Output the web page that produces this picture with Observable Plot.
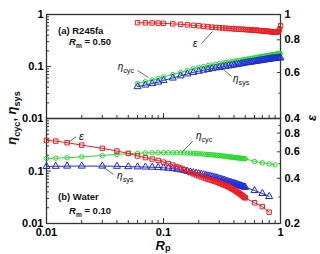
<!DOCTYPE html>
<html>
<head>
<meta charset="utf-8">
<script src="https://cdn.jsdelivr.net/npm/d3@7"></script>
<script src="https://cdn.jsdelivr.net/npm/@observablehq/plot@0.6"></script>
<style>
  body { margin: 0; background: #fff; }
  #chart { position: relative; width: 320px; height: 254px; overflow: hidden; background: #fff; }
  #chart svg { position: absolute; left: 0; top: 0; background: transparent !important; }
</style>
</head>
<body>
<div id="chart"></div>
<script>
// ---------- (a) R245fa, Rm = 0.50 ----------
const rpA = [0.06, 0.07, 0.08, 0.09, 0.10,
  0.12, 0.14, 0.16, 0.18, 0.20, 0.22, 0.24, 0.26, 0.28, 0.30,
  0.32, 0.34, 0.36, 0.38, 0.40, 0.42, 0.44, 0.46, 0.48, 0.50,
  0.52, 0.54, 0.56, 0.58, 0.60, 0.62, 0.64, 0.66, 0.68, 0.70,
  0.72, 0.74, 0.76, 0.78, 0.80, 0.82, 0.84, 0.86, 0.88, 0.90,
  0.92, 0.94, 0.96, 0.98, 1.00];
const epsA = [0.930, 0.929, 0.928, 0.927, 0.925,
  0.921, 0.917, 0.913, 0.909, 0.905, 0.901, 0.897, 0.894, 0.892, 0.890,
  0.888, 0.886, 0.884, 0.883, 0.881, 0.880, 0.879, 0.878, 0.877, 0.876,
  0.875, 0.874, 0.873, 0.872, 0.871, 0.870, 0.869, 0.868, 0.867, 0.866,
  0.865, 0.864, 0.863, 0.862, 0.861, 0.860, 0.859, 0.858, 0.857, 0.856,
  0.856, 0.857, 0.862, 0.875, 0.905];
const cycA = [0.047, 0.051, 0.055, 0.059, 0.063,
  0.070, 0.077, 0.084, 0.091, 0.096, 0.100, 0.104, 0.107, 0.110, 0.113,
  0.116, 0.119, 0.121, 0.124, 0.126, 0.128, 0.131, 0.133, 0.135, 0.137,
  0.139, 0.141, 0.143, 0.145, 0.147, 0.149, 0.151, 0.153, 0.155, 0.157,
  0.158, 0.160, 0.161, 0.163, 0.164, 0.166, 0.167, 0.169, 0.170, 0.172,
  0.173, 0.175, 0.176, 0.177, 0.178];
const sysA = [0.041, 0.044, 0.047, 0.050, 0.054,
  0.060, 0.066, 0.072, 0.077, 0.081, 0.085, 0.088, 0.091, 0.094, 0.096,
  0.099, 0.101, 0.103, 0.105, 0.107, 0.109, 0.111, 0.113, 0.115, 0.117,
  0.119, 0.120, 0.122, 0.123, 0.125, 0.126, 0.128, 0.129, 0.131, 0.132,
  0.133, 0.135, 0.136, 0.137, 0.139, 0.140, 0.141, 0.142, 0.143, 0.144,
  0.145, 0.146, 0.146, 0.147, 0.147];

// ---------- (b) Water, Rm = 0.10 ----------
const rpB = [0.01, 0.012, 0.015, 0.02, 0.03, 0.04, 0.05, 0.06, 0.07, 0.08, 0.09,
  0.10, 0.11, 0.12, 0.13, 0.14, 0.15, 0.16, 0.17, 0.18, 0.19, 0.20,
  0.21, 0.22, 0.23, 0.24, 0.25, 0.26, 0.27, 0.28, 0.29, 0.30,
  0.31, 0.32, 0.33, 0.34, 0.35, 0.36, 0.37, 0.38, 0.39, 0.40,
  0.41, 0.42, 0.43, 0.44, 0.45, 0.46, 0.47, 0.48, 0.49, 0.50,
  0.6, 0.7, 0.8, 0.9];
const epsB = [0.715, 0.707, 0.690, 0.665, 0.633, 0.607, 0.586, 0.563, 0.549, 0.537, 0.526,
  0.512, 0.501, 0.490, 0.479, 0.468, 0.457, 0.446, 0.436, 0.428, 0.421, 0.415,
  0.409, 0.404, 0.399, 0.395, 0.391, 0.387, 0.383, 0.380, 0.376, 0.372,
  0.368, 0.364, 0.361, 0.358, 0.355, 0.351, 0.347, 0.343, 0.339, 0.335,
  0.331, 0.327, 0.323, 0.319, 0.315, 0.311, 0.307, 0.303, 0.299, 0.296,
  0.275, 0.259, 0.238, null];
const cycB = [0.173, 0.176, 0.179, 0.186, 0.197, 0.207, 0.214, 0.218, 0.221, 0.222, 0.223,
  0.223, 0.223, 0.223, 0.223, 0.222, 0.221, 0.219, 0.218, 0.216, 0.215, 0.213,
  0.212, 0.210, 0.208, 0.206, 0.205, 0.203, 0.202, 0.200, 0.198, 0.196,
  0.195, 0.193, 0.192, 0.190, 0.189, 0.187, 0.186, 0.184, 0.183, 0.181,
  0.180, 0.179, 0.178, 0.177, 0.176, 0.175, 0.174, 0.173, 0.172, 0.171,
  0.152, 0.143, 0.137, 0.131];
const sysB = [0.122, 0.123, 0.124, 0.124, 0.124, 0.123, 0.121, 0.120, 0.119, 0.118, 0.117,
  0.115, 0.113, 0.111, 0.108, 0.105, 0.102, 0.099, 0.096, 0.093, 0.091, 0.089,
  0.087, 0.085, 0.083, 0.081, 0.080, 0.078, 0.076, 0.075, 0.073, 0.071,
  0.070, 0.068, 0.067, 0.065, 0.064, 0.062, 0.061, 0.060, 0.059, 0.058,
  0.057, 0.056, 0.055, 0.054, 0.053, 0.052, 0.051, 0.050, 0.0495, 0.049,
  0.0425, 0.0373, 0.0327, null];

// ---------- ticks ----------
const xLabelTicks = [0.01, 0.1, 1];
const logMinor = [0.02, 0.03, 0.04, 0.05, 0.06, 0.07, 0.08, 0.09, 0.2, 0.3, 0.4, 0.5, 0.6, 0.7, 0.8, 0.9];
const etaMajor = [0.01, 0.1, 1];
const etaLabelsA = [0.01, 0.1, 1];
const etaLabelsB = [0.01, 0.1];
const epsLabelsA = [0.4, 0.6, 0.8, 1];
const epsMinorA = [0.5, 0.7, 0.9];
const epsLabelsB = [0.2, 0.4, 0.6, 0.8];
const epsMinorB = [0.3, 0.5, 0.7, 0.9];

// ---------- callouts (label anchor and leader line, in data units) ----------
const calloutsA = [
  {name: "η", sub: "cyc", axis: "eta", tx: 0.041, ty: 0.084, x1: 0.060, y1: 0.084, x2: 0.0745, y2: 0.061},
  {name: "η", sub: "sys", axis: "eta", tx: 0.397, ty: 0.049, x1: 0.319, y1: 0.092, x2: 0.381, y2: 0.064},
  {name: "ε", sub: "", axis: "eps", tx: 0.180, ty: 0.747, x1: 0.211, y1: 0.774, x2: 0.262, y2: 0.861}
];
const calloutsB = [
  {name: "ε", sub: "", axis: "eps", tx: 0.0191, ty: 0.715, x1: 0.0154, y1: 0.693, x2: 0.0180, y2: 0.760},
  {name: "η", sub: "sys", axis: "eta", tx: 0.0405, ty: 0.069, x1: 0.0301, y1: 0.122, x2: 0.0374, y2: 0.086},
  {name: "η", sub: "cyc", axis: "eta", tx: 0.191, ty: 0.398, x1: 0.143, y1: 0.225, x2: 0.177, y2: 0.365}
];

const RED = "#ee1b1f", GREEN = "#27dc27", BLUE = "#1d2bd8";
const FONT = '"Liberation Sans", Arial, Helvetica, sans-serif';
const W = 320, H = 254;
const panels = [
  {top: 14, bottom: 118, title: "(a) R245fa", rm: "0.50", titleY: 34, rmY: 45},
  {top: 118, bottom: 223, title: "(b) Water", rm: "0.10", titleY: 200, rmY: 214}
];

const rows = (xs, vs) => xs.map((rp, i) => ({rp, v: vs[i]})).filter(d => d.v != null);

function series(data, color, symbol, r) {
  return [
    Plot.line(data, {x: "rp", y: "v", stroke: color, strokeWidth: 1}),
    Plot.dot(data, {x: "rp", y: "v", stroke: color, fill: "none", symbol, r, strokeWidth: 1})
  ];
}

function leaders(notes, axis) {
  return Plot.link(notes.filter(d => d.axis === axis),
    {x1: "x1", y1: "y1", x2: "x2", y2: "y2", stroke: "#444", strokeWidth: 0.8});
}

// tick labels as text marks pinned to a side of the frame
function tickLabels(values, side) {
  const opts = {text: d => String(d), fill: "#000", fontWeight: "bold", fontSize: 11};
  if (side === "left") return Plot.text(values, {...opts, y: d => d, frameAnchor: "left", textAnchor: "end", dx: -3});
  if (side === "right") return Plot.text(values, {...opts, y: d => d, frameAnchor: "right", textAnchor: "start", dx: 4});
  return Plot.text(values, {...opts, x: d => d, frameAnchor: "bottom", lineAnchor: "top", dy: 5});
}

function frame(p, yDomain, marks, hideX) {
  return Plot.plot({
    width: W, height: H,
    marginLeft: 46, marginRight: 40, marginTop: p.top, marginBottom: H - p.bottom,
    x: hideX ? {type: "log", domain: [0.01, 1], axis: null} : {type: "log", domain: [0.01, 1]},
    y: {type: "log", domain: yDomain},
    style: {fontFamily: FONT, fontSize: "11px", background: "none"},
    marks
  });
}

function richText(svg, x, y, parts, {size = 10, anchor = "start", rotate = 0, weight = "normal", subScale = 0.7, subDrop = 0.3, color = "#111"} = {}) {
  const t = d3.select(svg).append("text")
    .attr("transform", `translate(${x},${y})` + (rotate ? ` rotate(${rotate})` : ""))
    .attr("text-anchor", anchor)
    .attr("font-family", FONT)
    .attr("font-size", size)
    .attr("font-weight", weight)
    .attr("fill", color);
  let shift = 0;
  for (const part of parts) {
    const target = part.sub ? size * subDrop : 0;
    t.append("tspan")
      .text(part.t)
      .attr("dy", target - shift)
      .attr("font-size", part.sub ? size * subScale : size)
      .attr("font-style", part.italic ? "italic" : "normal");
    shift = target;
  }
}

function drawCallouts(svg, notes, axis) {
  const sx = svg.scale("x"), sy = svg.scale("y");
  for (const n of notes.filter(d => d.axis === axis)) {
    const parts = [{t: n.name, italic: true}];
    if (n.sub) parts.push({t: n.sub, sub: true});
    richText(svg, sx.apply(n.tx), sy.apply(n.ty), parts, {size: n.sub ? 10 : 11, subScale: 0.72});
  }
}

const chart = document.getElementById("chart");

function drawPanel(p, i) {
  const last = i === panels.length - 1;
  const etaData = i === 0 ? [rows(rpA, cycA), rows(rpA, sysA)] : [rows(rpB, cycB), rows(rpB, sysB)];
  const epsData = i === 0 ? rows(rpA, epsA) : rows(rpB, epsB);
  const notes = i === 0 ? calloutsA : calloutsB;

  // left axis: cycle and system efficiencies
  const etaPlot = frame(p, [0.01, 1], [
    Plot.frame({stroke: "#333", strokeWidth: 1.3}),
    ...series(etaData[0], GREEN, "circle", 2.2),
    ...series(etaData[1], BLUE, "triangle", 2.6),
    leaders(notes, "eta"),
    tickLabels(i === 0 ? etaLabelsA : etaLabelsB, "left"),
    Plot.axisY(etaMajor, {anchor: "left", tickSize: 5, dx: 5, fill: "none", label: null, stroke: "#333"}),
    Plot.axisY(logMinor, {anchor: "left", tickSize: 3, dx: 3, fill: "none", label: null, stroke: "#333"}),
    Plot.axisX(xLabelTicks, {anchor: "bottom", tickSize: 5, dy: -5, fill: "none", label: null, stroke: "#333"}),
    Plot.axisX(logMinor, {anchor: "bottom", tickSize: 3, dy: -3, fill: "none", label: null, stroke: "#333"}),
    ...(last ? [tickLabels(xLabelTicks, "bottom")] : [])
  ]);
  chart.appendChild(etaPlot);
  drawCallouts(etaPlot, notes, "eta");

  // panel title and membrane ratio
  richText(etaPlot, 58, p.titleY, [{t: p.title}], {size: 9.5, weight: "bold"});
  richText(etaPlot, 69, p.rmY, [{t: "R", italic: true}, {t: "m", sub: true}, {t: " = " + p.rm}], {size: 9.5, weight: "bold"});

  // right axis: effectiveness
  const epsDomain = i === 0 ? [0.4, 1] : [0.2, 1];
  const epsPlot = frame(p, epsDomain, [
    ...series(epsData, RED, "square", 2.5),
    leaders(notes, "eps"),
    tickLabels(i === 0 ? epsLabelsA : epsLabelsB, "right"),
    Plot.axisY(i === 0 ? epsLabelsA : epsLabelsB, {anchor: "right", tickSize: 4, dx: -4, fill: "none", label: null, stroke: "#333"}),
    Plot.axisY(i === 0 ? epsMinorA : epsMinorB, {anchor: "right", tickSize: 2.5, dx: -2.5, fill: "none", label: null, stroke: "#333"})
  ], true);
  chart.appendChild(epsPlot);
  drawCallouts(epsPlot, notes, "eps");
  return epsPlot;
}

const tops = panels.map(drawPanel);

// axis titles
const overlay = tops[tops.length - 1];
richText(overlay, 16, 118, [
  {t: "η", italic: true}, {t: "cyc", sub: true}, {t: ", "}, {t: "η", italic: true}, {t: "sys", sub: true}
], {size: 13, anchor: "middle", rotate: -90, weight: "bold", subScale: 0.7});
richText(overlay, 316, 118, [{t: "ε", italic: true}], {size: 13, anchor: "middle", rotate: -90, weight: "bold"});
richText(overlay, 163, 250, [{t: "R", italic: true}, {t: "p", sub: true}], {size: 13, anchor: "middle", weight: "bold", subDrop: 0.1});
</script>
</body>
</html>
